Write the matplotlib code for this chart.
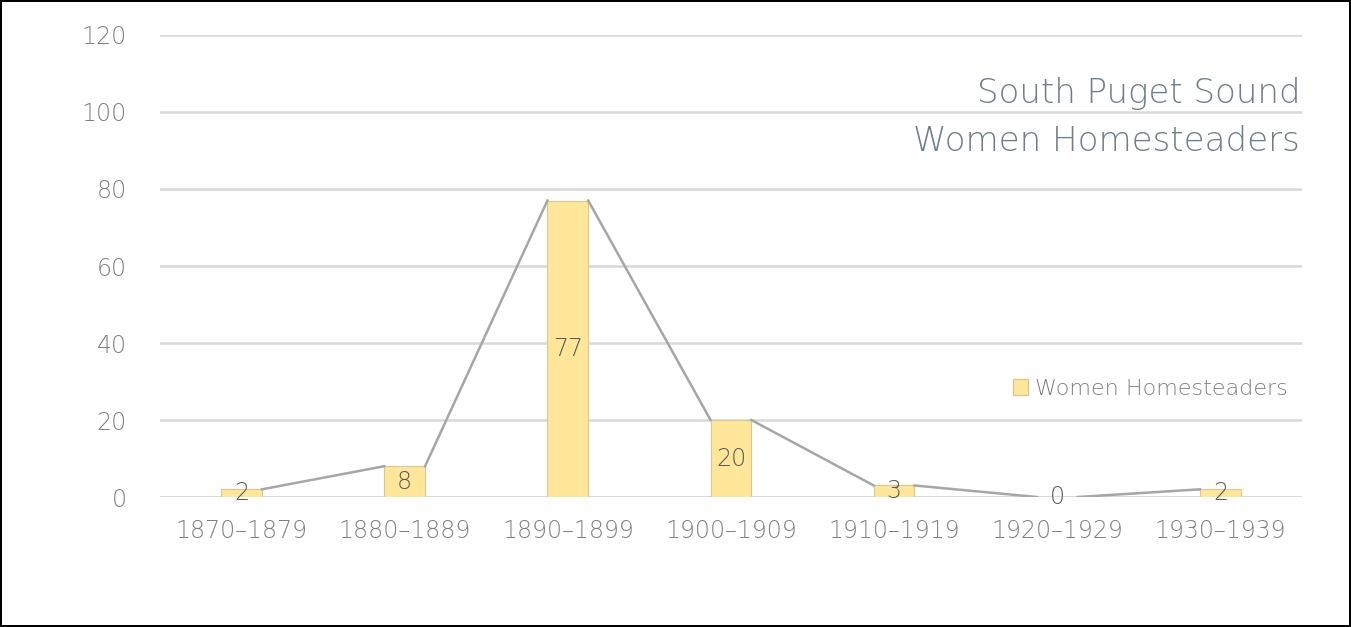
import matplotlib.pyplot as plt
import numpy as np
from matplotlib.patches import Patch

decades = ["1870\u20131879", "1880\u20131889", "1890\u20131899", "1900\u20131909",
           "1910\u20131919", "1920\u20131929", "1930\u20131939"]
homesteaders = [2, 8, 77, 20, 3, 0, 2]

plt.rcParams['font.family'] = ['DejaVu Sans']

fig = plt.figure(figsize=(13.51, 6.27), dpi=100)
fig.patch.set_edgecolor("black")
fig.patch.set_linewidth(1.5)
ax = fig.add_axes([0.1184, 0.2073, 0.8453, 0.7369])

x = np.arange(len(decades))
w = 0.25
ax.bar(x, homesteaders, width=w, color="#FFE699", edgecolor="#D9C88F",
       linewidth=0.8, zorder=3)

# series lines joining bar tops
for i in range(len(x) - 1):
    ax.plot([x[i] + w / 2, x[i + 1] - w / 2],
            [homesteaders[i], homesteaders[i + 1]],
            color="#A6A6A6", lw=1.8, zorder=4)

for xi, v in zip(x, homesteaders):
    ax.text(xi, v / 2, str(v), ha="center", va="center", fontsize=17,
            color="#595959", fontweight="light", zorder=5)

ax.set_xlim(-0.5, 6.5)
ax.set_ylim(0, 120)
ax.set_yticks(range(0, 121, 20))
ax.set_xticks(x)
ax.set_xticklabels(decades)
ax.tick_params(length=0, labelsize=17, labelcolor="#808080")
ax.tick_params(axis="x", pad=16)
ax.tick_params(axis="y", pad=24)
for lab in ax.get_xticklabels() + ax.get_yticklabels():
    lab.set_fontweight("light")
ax.grid(axis="y", color="#D9D9D9", lw=1.8, zorder=0)
for s in ax.spines.values():
    s.set_visible(False)
ax.axhline(0, color="#D9D9D9", lw=1.8, zorder=2)

ax.text(0.9985, 0.822, "South Puget Sound\nWomen Homesteaders",
        transform=ax.transAxes, ha="right", va="center", fontsize=24.5,
        color="#6F7F8A", fontweight="light", linespacing=1.58)

leg = ax.legend(handles=[Patch(facecolor="#FFE699", edgecolor="#D9C88F",
                               label="Women Homesteaders")],
                loc="center right", bbox_to_anchor=(1.005, 0.234), frameon=False,
                fontsize=16, handlelength=0.7, handleheight=0.7,
                handletextpad=0.3, labelcolor="#808080")
for t in leg.get_texts():
    t.set_fontweight("light")

fig.savefig("out.png", dpi=100, edgecolor=fig.get_edgecolor())
